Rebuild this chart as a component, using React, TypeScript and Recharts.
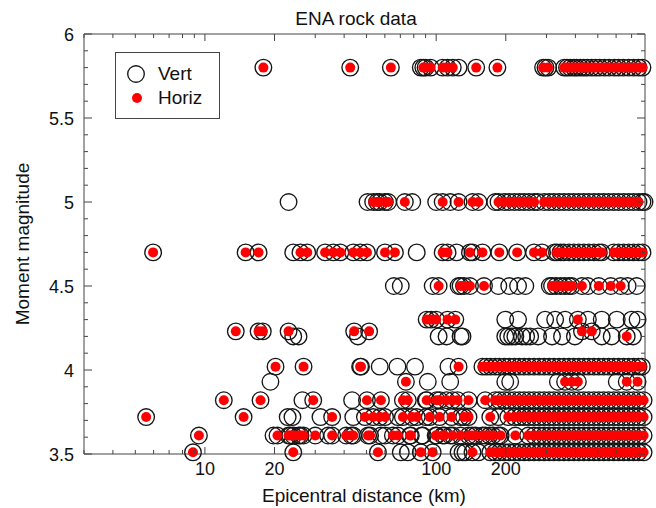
import { Scatter, ScatterChart, XAxis, YAxis } from 'recharts';

const FONT = '"Liberation Sans", Arial, Helvetica, sans-serif';
const AXIS = '#444';

// distances (km) read per magnitude row; "Both" = Vert + Horiz, "Vert" = vertical only
const m58Both = [17.9, 42.5, 63.7, 88, 90, 94.6, 106.7, 112, 118, 149, 184, 290, 305, 358, 368, 380, 394, 405, 420, 435, 450, 470, 490, 510, 535, 560, 590, 615, 645, 680, 715, 750, 780];
const m58Vert = [85.8, 125, 297];

const m50Both = [53.4, 55.5, 57, 60, 62, 73.2, 106.7, 125, 143.6, 152.4, 186, 197, 207, 218, 229, 240, 252, 265, 293, 308, 323, 340, 357, 375, 394, 414, 435, 457, 481, 505, 530, 557, 586, 615, 647, 680, 714, 750];
const m50Vert = [23, 50.5, 78.8, 100, 115, 180, 275, 780, 796];

const m47Both = [5.97, 15, 17.06, 25.9, 27.7, 33.1, 35.9, 38.5, 43.8, 47, 50.2, 60.1, 66.3, 106.7, 112, 140, 158.5, 187.5, 224, 265, 287, 333, 345, 357, 375, 394, 414, 435, 457, 481, 505, 520, 586, 615, 647, 680, 714, 750, 780];
const m47Vert = [24.1, 82.4, 122.5, 143.6, 325];

const m45Both = [102.5, 127.5, 132, 140, 161, 317, 330, 345, 360, 375, 386, 427, 505, 569, 628];
const m45Vert = [65.6, 70.3, 96.6, 125, 185.7, 207, 226, 243, 310, 453, 673, 736];

const m43Both = [91, 95, 100, 112, 121, 410];
const m43Vert = [199, 226, 296, 327, 361, 453, 520, 604, 700, 743];

const m423Both = [13.6, 17.06, 17.8, 23, 44.2, 51.3, 427, 471];
const m423Vert: number[] = [];

const m42Both = [667];
const m42Vert = [24.1, 25.4, 45.9, 102.5, 110.9, 127.5, 130, 199, 205, 213, 220, 235, 245, 255, 276, 317, 350, 398, 520, 574, 710];

const m402Both = [20.2, 26.7, 46.9, 47.3, 125, 158.5, 165, 172, 180, 187.5, 197, 207, 218, 229, 240, 252, 265, 279, 293, 308, 323, 340, 357, 375, 394, 414, 435, 457, 481, 505, 530, 557, 586, 615, 647, 680, 714, 750, 775];
const m402Vert = [57, 68, 81, 113];

const m393Both = [74, 361, 386, 410, 667, 743];
const m393Vert = [19.2, 92, 115, 199, 209, 336, 604];

const m382Both = [12.07, 17.4, 29.4, 50.2, 57.7, 71.8, 75.4, 91, 100.5, 103.5, 110.9, 117.8, 123.7, 138, 163, 180, 187.5, 197, 207, 218, 229, 240, 252, 265, 279, 293, 308, 323, 340, 357, 375, 394, 414, 435, 457, 481, 505, 530, 557, 586, 615, 647, 680, 714, 750, 789];
const m382Vert = [26.4, 43.3, 90.2];

const m372Both = [5.57, 14.7, 35.5, 49.2, 53.4, 57.1, 60.1, 71.8, 78.5, 82.4, 93.8, 103.5, 116.6, 132, 138, 171.4, 205, 218, 229, 240, 252, 265, 279, 293, 308, 323, 340, 357, 375, 394, 414, 435, 457, 481, 505, 530, 557, 586, 615, 647, 680, 714, 750, 789];
const m372Vert = [22.8, 23.9, 31.6, 43.8, 68.3, 90.2, 127.5, 185.7];

const m361Both = [9.42, 20.6, 23, 23.4, 24.1, 25.4, 25.9, 26.7, 30, 35.5, 40.8, 42.9, 43.8, 50.7, 51.8, 65, 68.3, 77, 77.7, 99.5, 100.5, 106.7, 108.8, 117.8, 127.5, 138, 143, 148, 158.5, 163, 170, 176, 190, 220, 250, 265, 279, 293, 308, 323, 340, 357, 375, 394, 414, 435, 457, 481, 505, 530, 557, 586, 615, 647, 680, 714, 750, 789];
const m361Vert = [19.8, 34.1, 57.7, 60.1, 86.6, 87.5, 115, 185.7];

const m351Both = [8.88, 24.1, 56, 85.8, 96.6, 143.6, 171.4, 180, 187.5, 197, 207, 218, 229, 240, 252, 265, 279, 293, 308, 323, 340, 357, 375, 394, 414, 435, 457, 481, 505, 530, 557, 586, 615, 647, 680, 714, 750, 789];
const m351Vert = [70.3, 75.4, 125, 130, 133.9, 152.4];

const rows: [number, number[], number[]][] = [
    [5.8, m58Both, m58Vert],
    [5.0, m50Both, m50Vert],
    [4.7, m47Both, m47Vert],
    [4.5, m45Both, m45Vert],
    [4.3, m43Both, m43Vert],
    [4.23, m423Both, m423Vert],
    [4.2, m42Both, m42Vert],
    [4.02, m402Both, m402Vert],
    [3.93, m393Both, m393Vert],
    [3.82, m382Both, m382Vert],
    [3.72, m372Both, m372Vert],
    [3.61, m361Both, m361Vert],
    [3.51, m351Both, m351Vert],
];

const vertData = rows.flatMap(([m, both, vOnly]) => [...both, ...vOnly].map((d) => ({ d, m })));
const horizData = rows.flatMap(([m, both]) => both.map((d) => ({ d, m })));

const xTicks = [3, 4, 5, 6, 7, 8, 9, 10, 20, 30, 40, 50, 60, 70, 80, 90, 100, 200, 300, 400, 500, 600, 700];
const xLabeled = [10, 20, 100, 200];
const yTicks = [3.5, 3.6, 3.7, 3.8, 3.9, 4, 4.1, 4.2, 4.3, 4.4, 4.5, 4.6, 4.7, 4.8, 4.9, 5, 5.1, 5.2, 5.3, 5.4, 5.5, 5.6, 5.7, 5.8, 5.9, 6];

const isYMajor = (v: number) => Math.abs(v * 2 - Math.round(v * 2)) < 1e-6;

function BottomTick({ x, y, payload }: any) {
    const major = xLabeled.includes(payload.value);
    return (
        <g>
            <line x1={x} x2={x} y1={y} y2={y - (major ? 7 : 4)} stroke={AXIS} />
            {major && (
                <text x={x} y={y + 21} textAnchor="middle" fontSize={18} fill="#111" fontFamily={FONT}>
                    {payload.value}
                </text>
            )}
        </g>
    );
}

function TopTick({ x, y, payload }: any) {
    const major = xLabeled.includes(payload.value);
    return <line x1={x} x2={x} y1={y} y2={y + (major ? 7 : 4)} stroke={AXIS} />;
}

function LeftTick({ x, y, payload }: any) {
    const major = isYMajor(payload.value);
    return (
        <g>
            <line x1={x} x2={x + (major ? 8 : 4)} y1={y} y2={y} stroke={AXIS} />
            {major && (
                <text x={x - 10} y={y + 6.5} textAnchor="end" fontSize={18} fill="#111" fontFamily={FONT}>
                    {payload.value}
                </text>
            )}
        </g>
    );
}

function RightTick({ x, y, payload }: any) {
    const major = isYMajor(payload.value);
    return <line x1={x} x2={x - (major ? 8 : 4)} y1={y} y2={y} stroke={AXIS} />;
}

const VertShape = (p: any) => <circle cx={p.cx} cy={p.cy} r={8.3} fill="none" stroke="#151515" strokeWidth={1.35} />;
const HorizShape = (p: any) => <circle cx={p.cx} cy={p.cy} r={5} fill="#ff0000" />;

export default function App() {
    return (
        <div style={{ position: 'absolute', left: 0, top: 0, width: 656, height: 508, background: '#fff' }}>
            <ScatterChart width={656} height={508} margin={{ top: 33, right: 10, bottom: 24, left: 44 }}>
                <XAxis
                    xAxisId={0}
                    dataKey="d"
                    type="number"
                    scale="log"
                    domain={[3, 800]}
                    ticks={xTicks}
                    interval={0}
                    height={30}
                    tickSize={0}
                    tickMargin={0}
                    tick={<BottomTick />}
                    axisLine={{ stroke: AXIS }}
                    tickLine={false}
                />
                <XAxis
                    xAxisId="top"
                    orientation="top"
                    dataKey="d"
                    type="number"
                    scale="log"
                    domain={[3, 800]}
                    ticks={xTicks}
                    interval={0}
                    height={1}
                    tickSize={0}
                    tickMargin={0}
                    tick={<TopTick />}
                    axisLine={{ stroke: AXIS }}
                    tickLine={false}
                />
                <YAxis
                    yAxisId={0}
                    dataKey="m"
                    type="number"
                    domain={[3.5, 6]}
                    ticks={yTicks}
                    interval={0}
                    width={40}
                    tickSize={0}
                    tickMargin={0}
                    tick={<LeftTick />}
                    axisLine={{ stroke: AXIS }}
                    tickLine={false}
                />
                <YAxis
                    yAxisId="right"
                    orientation="right"
                    dataKey="m"
                    type="number"
                    domain={[3.5, 6]}
                    ticks={yTicks}
                    interval={0}
                    width={1}
                    tickSize={0}
                    tickMargin={0}
                    tick={<RightTick />}
                    axisLine={{ stroke: AXIS }}
                    tickLine={false}
                />
                <Scatter name="Vert" data={vertData} xAxisId={0} yAxisId={0} shape={VertShape} isAnimationActive={false} />
                <Scatter name="Horiz" data={horizData} xAxisId={0} yAxisId={0} shape={HorizShape} isAnimationActive={false} />
                <Scatter data={horizData} xAxisId="top" yAxisId="right" shape={() => <g />} isAnimationActive={false} />
            </ScatterChart>
            <svg
                width={656}
                height={508}
                style={{ position: 'absolute', left: 0, top: 0, pointerEvents: 'none' }}
                fontFamily={FONT}
            >
                <text x={356} y={25} textAnchor="middle" fontSize={19} fill="#111">
                    ENA rock data
                </text>
                <text x={364} y={502} textAnchor="middle" fontSize={19} fill="#111">
                    Epicentral distance (km)
                </text>
                <text transform="translate(29,244) rotate(-90)" textAnchor="middle" fontSize={19} fill="#111">
                    Moment magnitude
                </text>
                <rect x={115.5} y={52.5} width={104} height={66} fill="#fff" stroke={AXIS} />
                <circle cx={136} cy={74} r={8.3} fill="none" stroke="#151515" strokeWidth={1.35} />
                <text x={158} y={80} fontSize={19} fill="#111">
                    Vert
                </text>
                <circle cx={137} cy={98} r={5} fill="#ff0000" />
                <text x={158} y={104} fontSize={19} fill="#111">
                    Horiz
                </text>
            </svg>
        </div>
    );
}
